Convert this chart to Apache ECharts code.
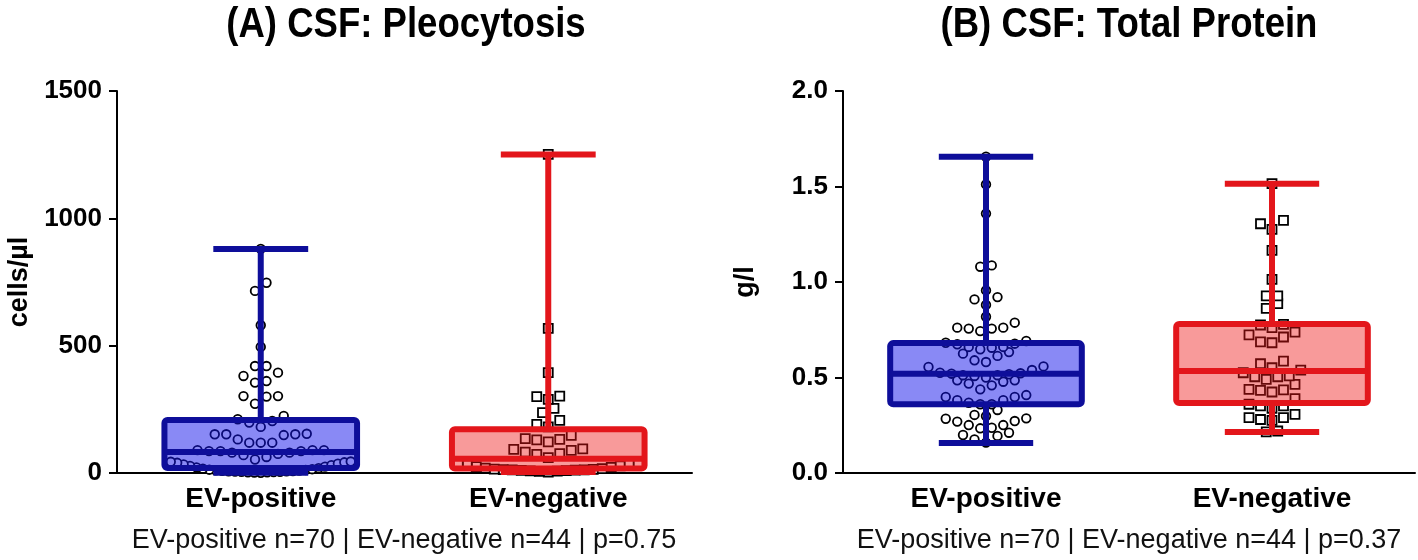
<!DOCTYPE html>
<html>
<head>
<meta charset="utf-8">
<script src="https://cdn.jsdelivr.net/npm/echarts@6/dist/echarts.min.js"></script>
<style>
html, body { margin: 0; padding: 0; background: #fff; }
#main { width: 1418px; height: 560px; }
</style>
</head>
<body>
<div id="main"></div>
<script>
var groups = ['EV-positive', 'EV-negative'];

// (A) cells/µl, one value per patient
var pleoPos = [880, 747, 715, 580, 495, 420, 420, 394, 381, 361, 355, 302, 300, 302, 272,
    224, 211, 204, 198, 181,
    154, 152, 152, 152, 149, 132, 119, 119, 119,
    90, 90, 90, 86, 86, 86, 80, 80, 75, 70, 63, 53,
    45, 44, 42, 40, 37, 34, 31, 28, 25, 22, 19, 17, 15, 13, 12, 11, 10, 9, 8, 7, 7, 6, 5, 5, 4, 3, 3, 2, 1];
var pleoNeg = [1251, 568, 394, 300, 302, 289, 237, 254, 191, 207, 181,
    148, 135, 132, 130, 122,
    95, 93, 89, 82, 76, 73, 60,
    41, 38, 35, 32, 28, 25, 22, 19, 17, 15, 14, 13, 12, 12, 11, 10, 9, 8, 7, 6, 4];
// min, q1, median, q3, max
var pleoPosBox = [1, 20, 82, 208, 880];
var pleoNegBox = [4, 18, 56, 172, 1251];

// (B) g/l
var protPos = [1.656, 1.511, 1.358, 1.087, 1.08, 0.956, 0.921, 0.909, 0.88, 0.818,
    0.787, 0.761, 0.761, 0.756, 0.756, 0.743,
    0.691, 0.682, 0.677, 0.674, 0.66, 0.66, 0.656, 0.648,
    0.633, 0.625, 0.613, 0.59, 0.581,
    0.558, 0.555, 0.539, 0.525, 0.522, 0.52, 0.517, 0.512, 0.512, 0.508, 0.50,
    0.485, 0.485, 0.478, 0.468, 0.459, 0.438,
    0.408, 0.398, 0.398, 0.381, 0.381, 0.368, 0.36, 0.36,
    0.33, 0.304, 0.298,
    0.286, 0.284, 0.272, 0.269, 0.251, 0.251, 0.237, 0.234,
    0.211, 0.199, 0.194, 0.176, 0.159];
var protNeg = [1.515, 1.323, 1.305, 1.276, 1.166, 1.014, 0.927, 0.927, 0.887, 0.862,
    0.778, 0.775, 0.761, 0.738, 0.723, 0.712, 0.687, 0.682,
    0.586, 0.572, 0.551, 0.539, 0.525, 0.508, 0.504, 0.504, 0.49,
    0.464, 0.438, 0.435, 0.433, 0.424, 0.389, 0.36, 0.351, 0.351, 0.339,
    0.307, 0.29, 0.29, 0.28, 0.276, 0.22, 0.215];
var protPosBox = [0.157, 0.36, 0.52, 0.68, 1.656];
var protNegBox = [0.215, 0.366, 0.534, 0.78, 1.515];

var pleoRange = [0, 1500, 500];
var protRange = [0, 2, 0.5];

var titles = ['(A) CSF: Pleocytosis', '(B) CSF: Total Protein'];
var yNames = ['cells/µl', 'g/l'];
var notes = ['EV-positive n=70 | EV-negative n=44 | p=0.75',
    'EV-positive n=70 | EV-negative n=44 | p=0.37'];

var lineColors = ['#0e0e9a', '#e3161b'];
var fillColors = ['rgba(20,20,235,0.5)', 'rgba(238,20,20,0.43)'];

var chartDom = document.getElementById('main');
var myChart = echarts.init(chartDom);

var plotH = 382;   // grid height in px
var rowPx = 11.5;  // height of one swarm row
var stepPx = 11.5; // spacing of dots inside a row
var maxRow = 180;  // widest a row may spread

// prism-like swarm: group close values into rows, lowest value in the middle
function swarm(values, cat, unitsPerPx) {
    var sorted = values.slice().sort(function (a, b) { return a - b; });
    var out = [];
    var i = 0;
    while (i < sorted.length) {
        var start = sorted[i];
        var row = [];
        while (i < sorted.length && sorted[i] - start < rowPx * unitsPerPx) {
            row.push(sorted[i]);
            i++;
        }
        var n = row.length;
        var step = n > 1 ? Math.min(stepPx, maxRow / (n - 1)) : 0;
        for (var k = 0; k < n; k++) {
            var slot;
            if (n % 2) {
                slot = k === 0 ? 0 : (k % 2 ? -Math.ceil(k / 2) : Math.ceil(k / 2));
            } else {
                var m = Math.floor(k / 2) + 0.5;
                slot = k % 2 ? m : -m;
            }
            out.push([cat, row[k], slot * step]);
        }
    }
    return out;
}

function renderDot(params, api) {
    var p = api.coord([api.value(0), api.value(1)]);
    var x = p[0] + api.value(2);
    var st = { fill: '#fff', stroke: '#000', lineWidth: 1.8 };
    if (api.value(0) === 0) {
        return { type: 'circle', shape: { cx: x, cy: p[1], r: 4.3 }, style: st };
    }
    return { type: 'rect', shape: { x: x - 4.5, y: p[1] - 4.5, width: 9, height: 9 }, style: st };
}

function renderBox(params, api) {
    var c = api.value(0);
    var lo = api.coord([c, api.value(1)]);
    var q1 = api.coord([c, api.value(2)]);
    var md = api.coord([c, api.value(3)]);
    var q3 = api.coord([c, api.value(4)]);
    var hi = api.coord([c, api.value(5)]);
    var band = api.size([1, 0])[0];
    var cx = lo[0];
    var hw = band * 0.335;
    var cw = band * 0.165;
    var col = lineColors[c];
    var st = { stroke: col, lineWidth: 6, lineCap: 'butt' };
    return {
        type: 'group',
        children: [
            { type: 'line', shape: { x1: cx, y1: hi[1], x2: cx, y2: q3[1] }, style: st },
            { type: 'line', shape: { x1: cx, y1: q1[1], x2: cx, y2: lo[1] }, style: st },
            { type: 'line', shape: { x1: cx - cw, y1: hi[1], x2: cx + cw, y2: hi[1] }, style: st },
            { type: 'line', shape: { x1: cx - cw, y1: lo[1], x2: cx + cw, y2: lo[1] }, style: st },
            {
                type: 'rect',
                shape: { x: cx - hw, y: q3[1], width: 2 * hw, height: q1[1] - q3[1], r: 3 },
                style: { fill: fillColors[c], stroke: col, lineWidth: 6, lineJoin: 'round' }
            },
            { type: 'line', shape: { x1: cx - hw, y1: md[1], x2: cx + hw, y2: md[1] }, style: st }
        ]
    };
}

var grids = [
    { left: 117, right: 726, top: 91, bottom: 87 },
    { left: 843, right: 3, top: 91, bottom: 87 }
];

function xAxisFor(i) {
    return {
        gridIndex: i,
        type: 'category',
        data: groups,
        axisLine: { lineStyle: { color: '#000', width: 2 } },
        axisTick: { alignWithLabel: true, length: 8, lineStyle: { color: '#000', width: 2 } },
        axisLabel: { color: '#000', fontWeight: 'bold', fontSize: 28, margin: 12, fontFamily: 'Liberation Sans' }
    };
}

function yAxisFor(i, range, fmt) {
    return {
        gridIndex: i,
        type: 'value',
        min: range[0],
        max: range[1],
        interval: range[2],
        name: yNames[i],
        nameLocation: 'middle',
        nameGap: 84,
        nameTextStyle: { color: '#000', fontWeight: 'bold', fontSize: 27, fontFamily: 'Liberation Sans' },
        axisLine: { show: true, lineStyle: { color: '#000', width: 2 } },
        axisTick: { show: true, length: 8, lineStyle: { color: '#000', width: 2 } },
        axisLabel: { color: '#000', fontWeight: 'bold', fontSize: 26, margin: 15, fontFamily: 'Liberation Sans', formatter: fmt },
        splitLine: { show: false }
    };
}

var titleFont = "bold 42px 'Liberation Sans'";
var noteFont = "27px 'Liberation Sans'";

var option = {
    animation: false,
    backgroundColor: '#fff',
    grid: grids,
    xAxis: [xAxisFor(0), xAxisFor(1)],
    yAxis: [
        yAxisFor(0, pleoRange, function (v) { return String(v); }),
        yAxisFor(1, protRange, function (v) { return v.toFixed(1); })
    ],
    graphic: [
        { type: 'text', x: 406, y: 25, scaleX: 0.87, style: { text: titles[0], fill: '#000', font: titleFont, align: 'center', verticalAlign: 'middle' } },
        { type: 'text', x: 1129, y: 25, scaleX: 0.87, style: { text: titles[1], fill: '#000', font: titleFont, align: 'center', verticalAlign: 'middle' } },
        { type: 'text', x: 404, y: 541, style: { text: notes[0], fill: '#111', font: noteFont, align: 'center', verticalAlign: 'middle' } },
        { type: 'text', x: 1129, y: 541, style: { text: notes[1], fill: '#111', font: noteFont, align: 'center', verticalAlign: 'middle' } }
    ],
    series: [
        {
            type: 'custom', xAxisIndex: 0, yAxisIndex: 0, z: 1,
            renderItem: renderDot,
            data: swarm(pleoPos, 0, 1500 / plotH).concat(swarm(pleoNeg, 1, 1500 / plotH))
        },
        {
            type: 'custom', xAxisIndex: 0, yAxisIndex: 0, z: 2,
            renderItem: renderBox,
            data: [[0].concat(pleoPosBox), [1].concat(pleoNegBox)]
        },
        {
            type: 'custom', xAxisIndex: 1, yAxisIndex: 1, z: 1,
            renderItem: renderDot,
            data: swarm(protPos, 0, 2 / plotH).concat(swarm(protNeg, 1, 2 / plotH))
        },
        {
            type: 'custom', xAxisIndex: 1, yAxisIndex: 1, z: 2,
            renderItem: renderBox,
            data: [[0].concat(protPosBox), [1].concat(protNegBox)]
        }
    ]
};

myChart.setOption(option);
</script>
</body>
</html>
